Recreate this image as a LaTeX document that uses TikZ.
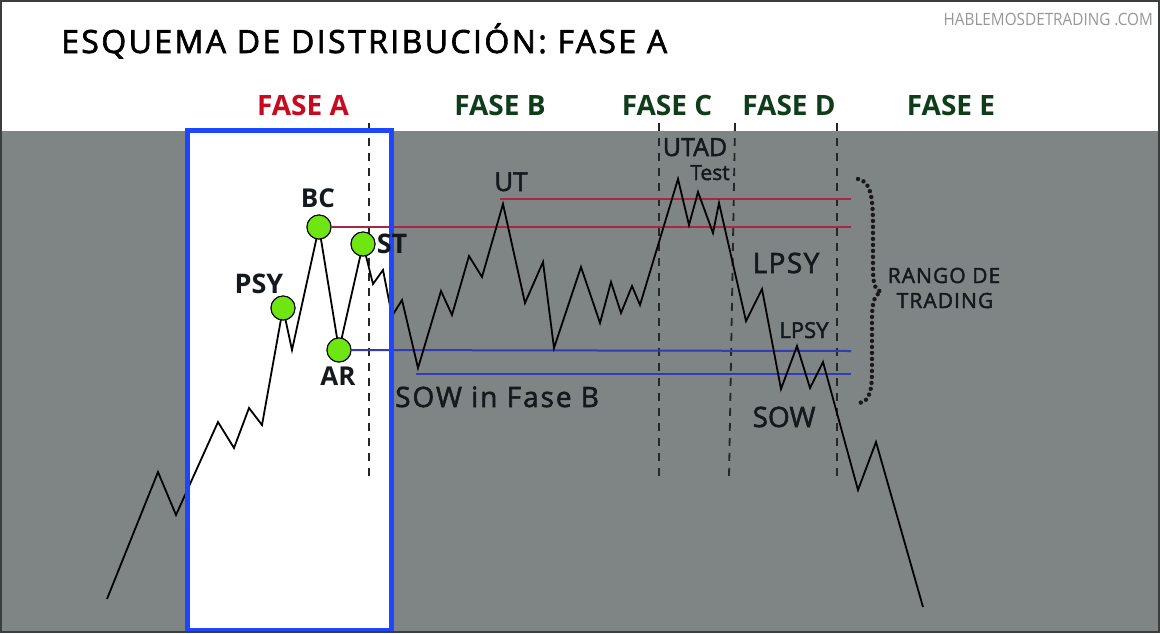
\documentclass[tikz,border=0pt]{standalone}
\usepackage{fontspec}
\setmainfont{Open Sans}
\newfontfamily\wmfont[FakeStretch=0.9]{Open Sans}
\newfontfamily\titlefont[LetterSpace=7.5,FakeBold=2]{Open Sans}
\newfontfamily\medfont[FakeBold=2]{Open Sans}
\newfontfamily\medwidefont[LetterSpace=5,FakeBold=2]{Open Sans}
\newfontfamily\sowfont[LetterSpace=7,FakeBold=2]{Open Sans}
\definecolor{bggray}{RGB}{127,132,133}
\definecolor{boxblue}{RGB}{30,70,255}
\definecolor{phasered}{RGB}{200,10,30}
\definecolor{phasegreen}{RGB}{15,60,25}
\definecolor{resline}{RGB}{165,40,70}
\definecolor{supline}{RGB}{50,60,180}
\definecolor{dotgreen}{RGB}{110,230,20}
\definecolor{labelink}{RGB}{20,25,30}
\definecolor{wmgray}{RGB}{150,152,152}
\definecolor{framegray}{RGB}{60,62,62}
\tikzset{
  lbl/.style={anchor=base, inner sep=0pt, text=labelink},
  phaselbl/.style={anchor=base, inner sep=0pt, font=\fontsize{28}{30}\selectfont\bfseries},
  event/.style={circle, minimum size=24pt, inner sep=0pt, fill=dotgreen, draw=black, line width=1pt},
  phaseline/.style={draw=black!85, line width=1.8pt, dash pattern=on 8pt off 7pt},
  resist/.style={draw=resline, line width=2pt},
  support/.style={draw=supline, line width=2pt},
  price/.style={draw=black, line width=1.8pt, line join=miter}
}
\begin{document}
\begin{tikzpicture}[x=1pt,y=-1pt]
\useasboundingbox (0,0) rectangle (1160,633);
% backgrounds
\fill[white] (0,0) rectangle (1160,131);
\fill[bggray] (0,131) rectangle (1160,633);
\fill[white] (187,130) rectangle (391,630);
% phase separators
\draw[phaseline] (369,123) -- (369,478);
\draw[phaseline] (659,123) -- (659,478);
\draw[phaseline] (735,123) -- (729,478);
\draw[phaseline] (837,123) -- (837,478);
% event circles (nodes)
\node[event] (psy) at (283,308) {};
\node[event] (bc) at (319,227) {};
\node[event] (ar) at (339,350) {};
\node[event] (st) at (363,244) {};
% range end coordinates
\coordinate (r1s) at (500,199); \coordinate (r1e) at (851,199);
\coordinate (r2e) at (851,227);
\coordinate (s1e) at (851,351);
\coordinate (s2s) at (416,374); \coordinate (s2e) at (851,374);
\draw[resist] (r1s) -- (r1e);
\draw[resist] (bc.east) -- (r2e);
\draw[support] (ar.east) -- (s1e);
\draw[support] (s2s) -- (s2e);
% price path
\draw[price] (107,599) -- (158,472) -- (176,515) -- (218,422) -- (234,448) -- (249,408) -- (262,425)
  -- (psy.center) -- (292,350) -- (bc.center) -- (ar.center) -- (st.center)
  -- (373,284) -- (383,270) -- (392,316) -- (402,300) -- (418,368) -- (441,291) -- (452,315)
  -- (469,256) -- (482,277) -- (503,204) -- (525,303) -- (543,262) -- (554,348) -- (581,267)
  -- (600,323) -- (611,282) -- (621,313) -- (632,286) -- (640,305) -- (678,179) -- (689,225)
  -- (698,192) -- (713,233) -- (719,203) -- (746,321) -- (762,289) -- (781,389) -- (797,346)
  -- (810,388) -- (823,362) -- (858,490) -- (876,442) -- (923,607);
% redraw circles on top
\node[event] at (psy) {};
\node[event] at (bc) {};
\node[event] at (ar) {};
\node[event] at (st) {};
% blue box border
\draw[boxblue, line width=5pt] (187,130) rectangle (391,630);
% brace
\draw[black!90, line width=4.4pt, line cap=round, dash pattern=on 0pt off 6pt]
  (858,179) .. controls (870,181) and (873,195) .. (873,225) -- (873,268)
  .. controls (873,284) and (875,290) .. (881,292)
  .. controls (875,294) and (872,302) .. (872,318) -- (872,372)
  .. controls (872,398) and (866,403) .. (857,403);
% title and watermark
\node[anchor=base west, inner sep=0pt, font=\titlefont\fontsize{32}{36}\selectfont] (title) at (61,53) {ESQUEMA DE DISTRIBUCIÓN: FASE A};
\node[anchor=base east, inner sep=0pt, text=wmgray, font=\wmfont\fontsize{17}{20}\selectfont] (wm) at (1153,25) {HABLEMOSDETRADING .COM};
% phase labels
\node[phaselbl, text=phasered] (fa) at (303,115) {FASE A};
\node[phaselbl, text=phasegreen] (fb) at (500,115) {FASE B};
\node[phaselbl, text=phasegreen] (fc) at (667,115) {FASE C};
\node[phaselbl, text=phasegreen] (fd) at (789,115) {FASE D};
\node[phaselbl, text=phasegreen] (fe) at (951,115) {FASE E};
% event labels
\node[lbl, font=\fontsize{26}{28}\selectfont\bfseries] (lbc) at (318,207) {BC};
\node[lbl, font=\fontsize{27}{28}\selectfont\bfseries] (lpsy) at (259,293) {PSY};
\node[lbl, font=\fontsize{26}{28}\selectfont\bfseries] (lar) at (338,385) {AR};
\node[lbl, font=\fontsize{27}{28}\selectfont\bfseries] (lst) at (392,253) {ST};
\node[lbl, font=\medfont\fontsize{26}{28}\selectfont] (lut) at (511,191) {UT};
\node[lbl, anchor=base west, font=\sowfont\fontsize{28}{30}\selectfont] (lsowb) at (395,407) {SOW in Fase B};
\node[lbl, font=\medfont\fontsize{25}{28}\selectfont] (lutad) at (695,156) {UTAD};
\node[lbl, font=\medfont\fontsize{21}{24}\selectfont] (ltest) at (710,180) {Test};
\node[lbl, font=\medwidefont\fontsize{28}{30}\selectfont] (llpsy1) at (786,273) {LPSY};
\node[lbl, font=\medfont\fontsize{22}{24}\selectfont] (llpsy2) at (804,338) {LPSY};
\node[lbl, font=\medfont\fontsize{28}{30}\selectfont] (lsow) at (784,427) {SOW};
\node[lbl, font=\medwidefont\fontsize{21}{24}\selectfont] (lrango) at (944,283) {RANGO DE};
\node[lbl, font=\medwidefont\fontsize{21}{24}\selectfont] (ltrading) at (945,308) {TRADING};
% outer frame
\draw[framegray, line width=2pt] (1,1) rectangle (1159,632);
\end{tikzpicture}
\end{document}
